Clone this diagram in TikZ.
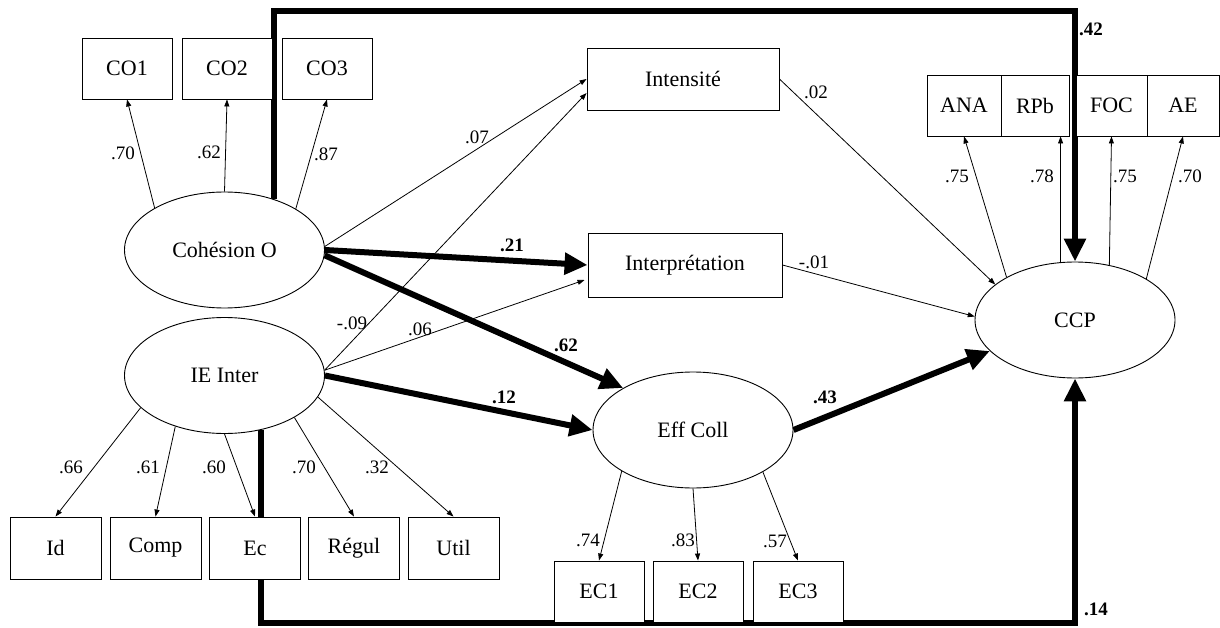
\documentclass[tikz,border=0pt]{standalone}
\usepackage{fontspec}
\setmainfont{Liberation Serif}
\usetikzlibrary{shapes.geometric,arrows.meta,calc,backgrounds}

\begin{document}
\begin{tikzpicture}[x=1pt,y=-1pt,
  box/.style={draw, line width=0.9pt, fill=white, minimum width=90pt, minimum height=61pt,
    inner sep=0pt, font=\fontsize{22}{24}\selectfont},
  latent/.style={ellipse, draw, line width=0.9pt, fill=white, minimum width=200pt,
    minimum height=116pt, inner sep=0pt, font=\fontsize{22}{24}\selectfont},
  link/.style={line width=0.8pt, -{Triangle[length=7pt,width=5pt]}},
  heavy/.style={line width=6pt, -{Triangle[length=23pt,width=21pt]}},
  coef/.style={inner sep=0pt, font=\fontsize{19}{21}\selectfont},
  bcoef/.style={inner sep=0pt, font=\fontsize{19}{21}\selectfont\bfseries}
]
\useasboundingbox (0,0) rectangle (1220,628);

% latent variables
\node[latent] (coh) at (224.5,250) {Cohésion O};
\node[latent] (ie)  at (224.5,375.5) {IE Inter};
\node[latent] (eff) at (693,430) {Eff Coll};
\node[latent] (ccp) at (1075,320) {CCP};

% indicators of Cohésion O
\node[box] (co1) at (127,68.5) {CO1};
\node[box] (co2) at (227,68.5) {CO2};
\node[box] (co3) at (327,68.5) {CO3};

% mediators
\node[box, minimum width=192pt, minimum height=62pt] (int) at (683,79) {Intensité};
\node[box, minimum width=194pt, minimum height=64pt] (interp) at (685,265) {Interprétation};

% indicators of CCP
\node[box, minimum width=74pt] (ana) at (964,105.5) {ANA};
\node[box, minimum width=68pt] (rpb) at (1035,105.5) {RPb};
\node[box, minimum width=71pt] (foc) at (1111.5,105.5) {FOC};
\node[box, minimum width=72pt] (ae)  at (1183,105.5) {AE};

% indicators of IE Inter
\node[box, minimum width=91pt, minimum height=62pt] (id)    at (55.5,548) {Id};
\node[box, minimum width=91pt, minimum height=62pt] (comp)  at (155.5,548) {Comp};
\node[box, minimum width=91pt, minimum height=62pt] (ec)    at (255,548) {Ec};
\node[box, minimum width=91pt, minimum height=62pt] (regul) at (354,548) {Régul};
\node[box, minimum width=91pt, minimum height=62pt] (util)  at (453.5,548) {Util};

% indicators of Eff Coll
\node[box] (ec1) at (599,591.5) {EC1};
\node[box] (ec2) at (698,591.5) {EC2};
\node[box] (ec3) at (798,591.5) {EC3};

\coordinate (topy) at (0,11.5);
\coordinate (boty) at (0,623);

\begin{pgfonlayer}{background}
  % direct paths to CCP around the diagram
  \draw[heavy] (coh.46.3) -- (coh.46.3 |- topy) -- (ccp.north |- topy) -- (ccp.north);
  \draw[heavy] (ie.304.9) -- (ie.304.9 |- boty) -- (ccp.south |- boty) -- (ccp.south);

  % structural paths
  \draw[heavy] (coh.east) -- (interp.west);
  \draw[heavy] (coh.-3) -- (eff.149.4);
  \draw[heavy] (ie.east) -- (eff.west);
  \draw[heavy] (eff.east) -- (ccp.200.4);
  \draw[link] (coh.2) -- (int.west);
  \draw[link] (ie.3) -- ($(int.west)+(0,14)$);
  \draw[link] (ie.3) -- ($(interp.west)+(-3,15)$);
  \draw[link] (int.east) -- (ccp.156.2);
  \draw[link] (interp.east) -- (ccp.178);

  % loadings
  \draw[link] (coh.149.2) -- (co1.south);
  \draw[link] (coh.90) -- (co2.south);
  \draw[link] (coh.30.8) -- (co3.south);
  \draw[link] (ie.201.5) -- (id.north);
  \draw[link] (ie.226.6) -- (comp.north);
  \draw[link] (ie.270) -- (ec.north);
  \draw[link] (ie.329.5) -- (regul.north);
  \draw[link] (ie.347.3) -- (util.north);
  \draw[link] (eff.210.6) -- (ec1.north);
  \draw[link] (eff.270) -- (ec2.north);
  \draw[link] (eff.329.7) -- (ec3.north);
  \draw[link] (ccp.148.8) -- (ana.south);
  \draw[link] (ccp.104.7) -- (ccp.104.7 |- rpb.south);
  \draw[link] (ccp.58.9) -- (foc.south);
  \draw[link] (ccp.30.3) -- (ae.south);
\end{pgfonlayer}

% coefficients
\node[coef] (l1) at (123,153) {.70};
\node[coef] (l2) at (209,152) {.62};
\node[coef] (l3) at (326,154) {.87};
\node[coef] (l4) at (477,137) {.07};
\node[bcoef] (l5) at (512,245) {.21};
\node[coef] (l6) at (352,323) {-.09};
\node[coef] (l7) at (420,329) {.06};
\node[bcoef] (l8) at (566,345) {.62};
\node[bcoef] (l9) at (504,397) {.12};
\node[bcoef] (l10) at (825,397) {.43};
\node[coef] (l11) at (816,92) {.02};
\node[coef] (l12) at (814,262) {-.01};
\node[bcoef] (l13) at (1091,29) {.42};
\node[coef] (l14) at (957,176) {.75};
\node[coef] (l15) at (1042,176) {.78};
\node[coef] (l16) at (1125,176) {.75};
\node[coef] (l17) at (1190,176) {.70};
\node[coef] (l18) at (71,467) {.66};
\node[coef] (l19) at (148,467) {.61};
\node[coef] (l20) at (214,467) {.60};
\node[coef] (l21) at (304,467) {.70};
\node[coef] (l22) at (377,467) {.32};
\node[coef] (l23) at (588,540) {.74};
\node[coef] (l24) at (683,540) {.83};
\node[coef] (l25) at (775,541) {.57};
\node[bcoef] (l26) at (1096,609) {.14};
\end{tikzpicture}
\end{document}
